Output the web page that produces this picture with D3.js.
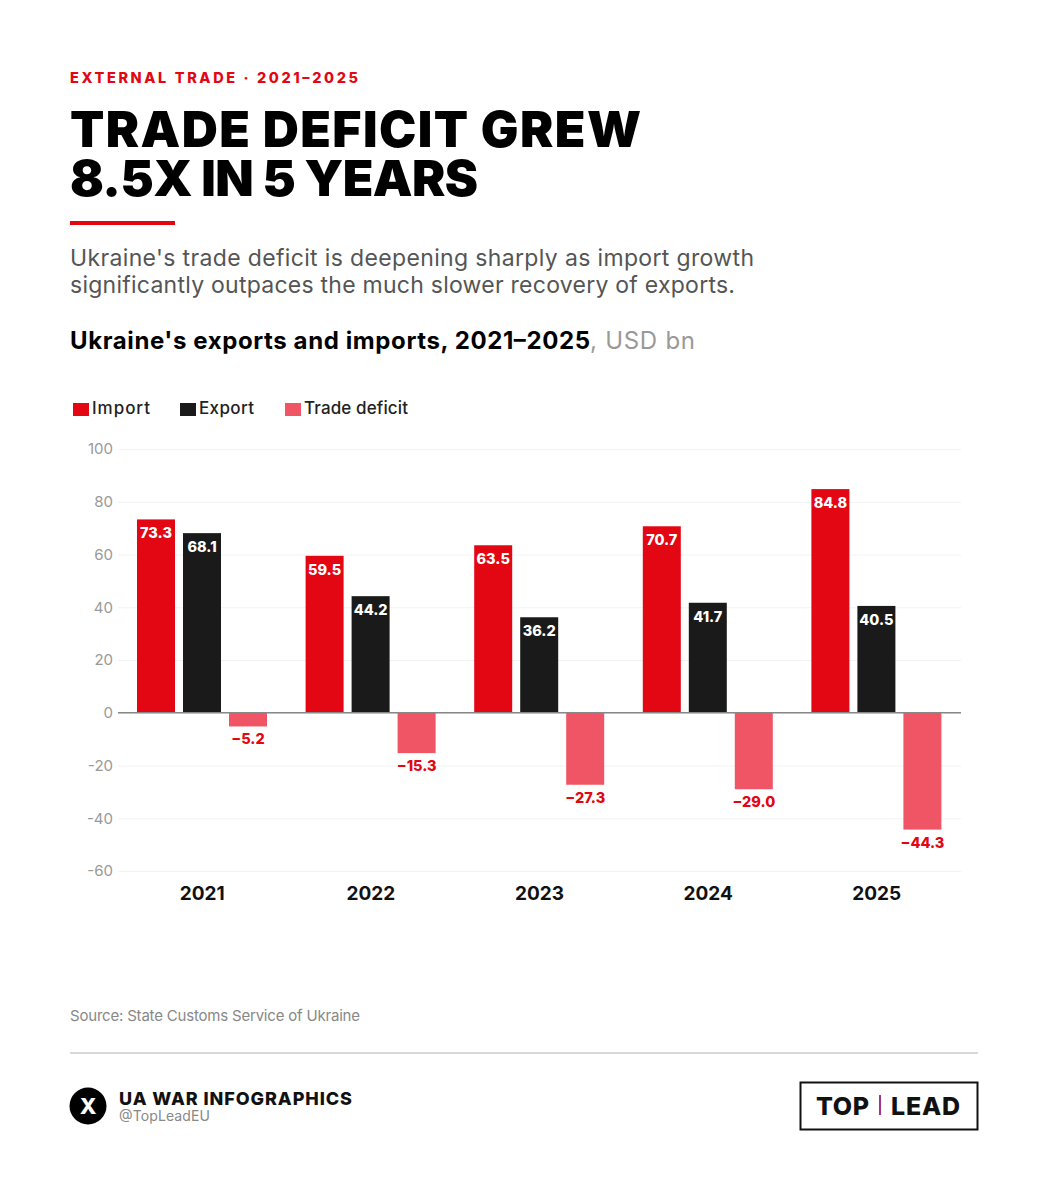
<!DOCTYPE html>
<html>
<head>
<meta charset="utf-8">
<script src="https://cdn.jsdelivr.net/npm/d3@7"></script>
<style>
  html, body { margin: 0; padding: 0; background: #fff; }
  svg { display: block; }
  text { font-family: "Inter", "Noto Sans", sans-serif; }
</style>
</head>
<body>
<div id="graph"></div>
<script>
const years = ['2021', '2022', '2023', '2024', '2025'];
const seriesNames = ['Import', 'Export', 'Trade deficit'];
const importValues = [73.3, 59.5, 63.5, 70.7, 84.8];
const exportValues = [68.1, 44.2, 36.2, 41.7, 40.5];
const deficitValues = [-5.2, -15.3, -27.3, -29.0, -44.3];
const yTicks = [100, 80, 60, 40, 20, 0, -20, -40, -60];

const w = 1048;
const h = 1200;
const red = '#e30613';
const dark = '#1a1a1a';
const pink = '#f05565';

const svg = d3.select('#graph').append('svg').attr('width', w).attr('height', h);

const y = d3.scaleLinear().domain([-60, 100]).range([871, 449]);
const x = d3.scaleBand().domain(years).range([118, 961]).padding(0);
const bars = d3.scaleBand().domain(seriesNames).range([19, 149]).paddingInner(0.174);

// text stretched to the width it has in the reference (the original font is wider than Inter)
function label(px, py, str, size, weight, fill, width) {
  return svg.append('text').attr('x', px).attr('y', py).text(str)
    .attr('font-size', size).attr('font-weight', weight).attr('fill', fill)
    .attr('textLength', width).attr('lengthAdjust', 'spacing');
}

// header
label(70, 83, 'EXTERNAL TRADE · 2021–2025', 14.5, 800, red, 288);
label(70, 147, 'TRADE DEFICIT GREW', 50, 900, '#000', 571);
label(70, 196, '8.5X IN 5 YEARS', 50, 900, '#000', 408);
svg.append('rect').attr('x', 70).attr('y', 221).attr('width', 105).attr('height', 4).attr('fill', red);
label(70, 265.5, "Ukraine's trade deficit is deepening sharply as import growth", 23, 400, '#555', 684);
label(70, 292.5, 'significantly outpaces the much slower recovery of exports.', 23, 400, '#555', 665);
label(70, 349, "Ukraine's exports and imports, 2021–2025", 24, 700, '#000', 520);
label(590, 349, ', USD bn', 24, 400, '#999', 105);

// legend
const legendX = [73, 180, 285];
const legendWidth = [58, 55, 104];
const legendColor = d3.scaleOrdinal().domain(seriesNames).range([red, dark, pink]);
seriesNames.forEach((name, i) => {
  svg.append('rect').attr('x', legendX[i]).attr('y', 403).attr('width', 16).attr('height', 13)
    .attr('fill', legendColor(name));
  label(legendX[i] + 19, 414, name, 17, 500, '#222', legendWidth[i]);
});

// gridlines and y axis
const yAxis = d3.axisLeft(y).tickValues(yTicks).tickSize(-(961 - 118)).tickPadding(5).tickFormat(d => d);
const yG = svg.append('g').attr('transform', 'translate(118,0)').call(yAxis);
yG.select('.domain').remove();
yG.selectAll('.tick line').attr('stroke', '#f2f2f2').attr('stroke-width', 1);
yG.selectAll('.tick text').attr('fill', '#999').attr('font-size', 15).attr('font-family', 'Inter');

// bars
years.forEach((year, i) => {
  const vals = [importValues[i], exportValues[i], deficitValues[i]];
  const g = svg.append('g').attr('transform', `translate(${x(year)},0)`);
  seriesNames.forEach((name, j) => {
    const v = vals[j];
    g.append('rect').attr('x', bars(name)).attr('width', bars.bandwidth())
      .attr('y', y(Math.max(v, 0))).attr('height', Math.abs(y(v) - y(0)))
      .attr('fill', legendColor(name));
    if (v >= 0) {
      g.append('text').attr('x', bars(name) + bars.bandwidth() / 2).attr('y', y(v) + 19)
        .attr('text-anchor', 'middle').attr('font-size', 14.5).attr('font-weight', 800)
        .attr('fill', '#fff').text(v.toFixed(1));
    } else {
      g.append('text').attr('x', bars(name) + bars.bandwidth() / 2).attr('y', y(v) + 18)
        .attr('text-anchor', 'middle').attr('font-size', 14.5).attr('font-weight', 800)
        .attr('fill', red).text('−' + Math.abs(v).toFixed(1));
    }
  });
});

// zero line
svg.append('line').attr('x1', 118).attr('x2', 961).attr('y1', y(0)).attr('y2', y(0))
  .attr('stroke', '#888').attr('stroke-width', 1.5);

// x labels
const xAxis = d3.axisBottom(x).tickSize(0).tickPadding(0);
const xG = svg.append('g').attr('transform', 'translate(0,900)').call(xAxis);
xG.select('.domain').remove();
xG.selectAll('.tick text').attr('dy', 0).attr('fill', '#111').attr('font-size', 19)
  .attr('font-weight', 700).attr('font-family', 'Inter');

// footer
label(70, 1021, 'Source: State Customs Service of Ukraine', 15, 400, '#888', 290);
svg.append('line').attr('x1', 70).attr('x2', 978).attr('y1', 1053).attr('y2', 1053)
  .attr('stroke', '#ccc').attr('stroke-width', 1.5);
svg.append('circle').attr('cx', 88).attr('cy', 1106).attr('r', 18.5).attr('fill', '#000');
svg.append('text').attr('x', 88).attr('y', 1114).attr('text-anchor', 'middle').text('X')
  .attr('fill', '#fff').attr('font-size', 22).attr('font-weight', 800);
label(119, 1105, 'UA WAR INFOGRAPHICS', 18, 800, '#111', 233);
label(119, 1121, '@TopLeadEU', 14, 400, '#888', 91);
svg.append('rect').attr('x', 800.5).attr('y', 1082.5).attr('width', 177).attr('height', 47)
  .attr('fill', 'none').attr('stroke', '#111').attr('stroke-width', 2);
label(816, 1115, 'TOP', 25, 800, '#111', 53);
svg.append('rect').attr('x', 879).attr('y', 1095).attr('width', 2).attr('height', 20).attr('fill', '#a5328f');
label(891, 1115, 'LEAD', 25, 800, '#111', 69);
</script>
</body>
</html>
